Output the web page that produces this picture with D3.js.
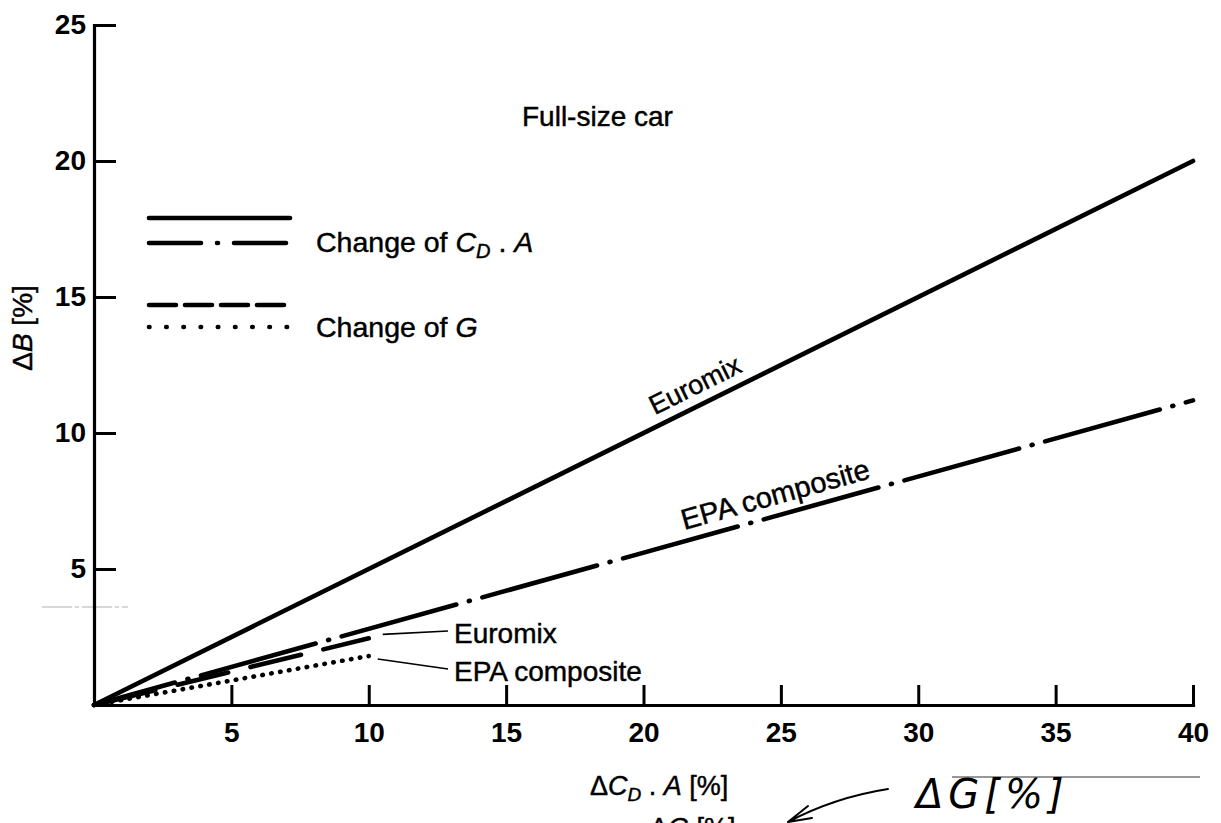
<!DOCTYPE html>
<html><head><meta charset="utf-8">
<script src="https://cdn.jsdelivr.net/npm/d3@7"></script>
<style>
body{margin:0;background:#fff}
svg{display:block}
text{font-family:"Liberation Sans",Arial,Helvetica,sans-serif;fill:#000}
.t{stroke:#000;stroke-width:0.45px}
</style>
</head><body>
<svg id="chart" width="1221" height="823"></svg>
<script>
// ---- data ----
const xTicks = [5, 10, 15, 20, 25, 30, 35, 40];
const yTicks = [5, 10, 15, 20, 25];
const cdEuromix = [[0, 0], [40, 20]];      // change of CD.A, Euromix (solid)
const cdEPA = [[0, 0], [40, 11.2]];        // change of CD.A, EPA composite (dash-dot)
const gEuromix = [[0, 0], [10, 2.45]];     // change of G, Euromix (dashed)
const gEPA = [[0, 0], [10, 1.8]];          // change of G, EPA composite (dotted)

const svg = d3.select("#chart");
const x = d3.scaleLinear().domain([0, 40]).range([94, 1193]);
const y = d3.scaleLinear().domain([0, 25]).range([705, 25]);

// faint scan artefact line
svg.append("line").attr("x1", 42).attr("x2", 128).attr("y1", 607).attr("y2", 607)
  .attr("stroke", "#b0b0b0").attr("stroke-width", 1.2).attr("stroke-dasharray", "30,3,4,3");

// ---- axes ----
const xAxis = d3.axisBottom(x).tickValues(xTicks).tickSizeInner(-20).tickSizeOuter(0).tickPadding(17).tickFormat(d3.format("d"));
const yAxis = d3.axisLeft(y).tickValues(yTicks).tickSizeInner(-22).tickSizeOuter(0).tickPadding(8).tickFormat(d3.format("d"));

const gx = svg.append("g").attr("transform", `translate(0,${y(0)})`).call(xAxis);
const gy = svg.append("g").attr("transform", `translate(${x(0)},0)`).call(yAxis);
[gx, gy].forEach(g => {
  g.attr("font-family", null).attr("font-size", null);
  g.select(".domain").attr("stroke", "#000").attr("stroke-width", 3.2).attr("stroke-linecap", "square");
  g.selectAll(".tick line").attr("stroke", "#000").attr("stroke-width", 3);
  g.selectAll(".tick text").attr("fill", "#000").style("font-size", "28px").style("font-weight", "bold");
});

// ---- lines ----
const line = d3.line().x(d => x(d[0])).y(d => y(d[1]));
const series = [
  {data: cdEuromix, dash: null, w: 4.6, off: 0},
  {data: cdEPA, dash: "119,13,1,13", w: 4.6, off: 35},
  {data: gEuromix, dash: "52,23", w: 4.6, off: -11},
  {data: gEPA, dash: "0.5,8.5", w: 4.6, off: 0}
];
series.forEach(s => {
  const p = svg.append("path").attr("d", line(s.data)).attr("fill", "none")
    .attr("stroke", "#000").attr("stroke-width", s.w).attr("stroke-linecap", "round");
  if (s.dash) p.attr("stroke-dasharray", s.dash).attr("stroke-dashoffset", s.off);
});

// ---- labels along the long lines ----
function lineLabel(data, xv, text, off, size) {
  const [p0, p1] = data;
  const px0 = x(p0[0]), py0 = y(p0[1]), px1 = x(p1[0]), py1 = y(p1[1]);
  const ang = Math.atan2(py1 - py0, px1 - px0) * 180 / Math.PI;
  const t = (xv - p0[0]) / (p1[0] - p0[0]);
  const cx = px0 + t * (px1 - px0), cy = py0 + t * (py1 - py0);
  svg.append("text").attr("class", "t").attr("transform", `translate(${cx},${cy}) rotate(${ang}) translate(0,${off})`)
    .attr("text-anchor", "middle").style("font-size", size + "px").text(text);
}
lineLabel(cdEuromix, 22.2, "Euromix", -11, 27);
lineLabel(cdEPA, 25.0, "EPA composite", -11, 29);

// ---- labels for short lines with leaders ----
const eEnd = gEuromix[1], pEnd = gEPA[1];
svg.append("line").attr("x1", x(eEnd[0]) + 14).attr("y1", y(eEnd[1]) - 4).attr("x2", 448).attr("y2", 631)
  .attr("stroke", "#000").attr("stroke-width", 1.6);
svg.append("line").attr("x1", x(pEnd[0]) + 9).attr("y1", y(pEnd[1]) + 3).attr("x2", 448).attr("y2", 669)
  .attr("stroke", "#000").attr("stroke-width", 1.6);
svg.append("text").attr("class", "t").attr("x", 454).attr("y", 643).style("font-size", "28px").text("Euromix");
svg.append("text").attr("class", "t").attr("x", 454).attr("y", 681).style("font-size", "28px").text("EPA composite");

// ---- title ----
svg.append("text").attr("class", "t").attr("x", 522).attr("y", 126).style("font-size", "28px").text("Full-size car");

// ---- legend ----
const legend = [
  {y: 218, dash: null},
  {y: 243, dash: "52,16,1,16"},
  {y: 305, dash: "27,9"},
  {y: 327, dash: "0.5,16.7"}
];
legend.forEach(l => {
  const ln = svg.append("line").attr("x1", 149).attr("x2", 290).attr("y1", l.y).attr("y2", l.y)
    .attr("stroke", "#000").attr("stroke-width", 4.6).attr("stroke-linecap", "round");
  if (l.dash) ln.attr("stroke-dasharray", l.dash);
});
const t1 = svg.append("text").attr("class", "t").attr("x", 316).attr("y", 252).style("font-size", "28.5px");
t1.append("tspan").text("Change of ");
t1.append("tspan").style("font-style", "italic").text("C");
t1.append("tspan").style("font-style", "italic").style("font-size", "20px").attr("dy", 6).text("D");
t1.append("tspan").attr("dy", -6).text(" . ");
t1.append("tspan").style("font-style", "italic").text("A");
const t2 = svg.append("text").attr("class", "t").attr("x", 316).attr("y", 337).style("font-size", "28.5px");
t2.append("tspan").text("Change of ");
t2.append("tspan").style("font-style", "italic").text("G");

// ---- axis titles ----
const yl = svg.append("text").attr("class", "t").attr("transform", "translate(32,328) rotate(-90)")
  .attr("text-anchor", "middle").style("font-size", "28px");
yl.append("tspan").text("Δ");
yl.append("tspan").style("font-style", "italic").text("B");
yl.append("tspan").text(" [%]");

const xl = svg.append("text").attr("class", "t").attr("x", 590).attr("y", 795).style("font-size", "27px");
xl.append("tspan").text("Δ");
xl.append("tspan").style("font-style", "italic").text("C");
xl.append("tspan").style("font-style", "italic").style("font-size", "19px").attr("dy", 6).text("D");
xl.append("tspan").attr("dy", -6).text(" . ");
xl.append("tspan").style("font-style", "italic").text("A");
xl.append("tspan").text(" [%]");

// second (cut-off) axis title at the bottom edge, as in the scanned reference
const xl2 = svg.append("text").attr("class", "t").attr("x", 650).attr("y", 837).style("font-size", "27px");
xl2.append("tspan").text("Δ");
xl2.append("tspan").style("font-style", "italic").text("G");
xl2.append("tspan").text(" [%]");

// ---- handwritten annotation ----
svg.append("line").attr("x1", 952).attr("x2", 1200).attr("y1", 777).attr("y2", 777)
  .attr("stroke", "#333").attr("stroke-width", 1.2);
svg.append("text").attr("x", 916).attr("y", 808)
  .style("font-family", "'DejaVu Sans'").style("font-weight", "200").style("font-style", "italic")
  .style("font-size", "40px").style("letter-spacing", "5px").text("ΔG[%]");
svg.append("path").attr("d", "M888,789 C850,795 820,805 788,822 M788,822 L808,806 M788,822 L812,818")
  .attr("fill", "none").attr("stroke", "#000").attr("stroke-width", 2).attr("stroke-linecap", "round");
</script>
</body></html>
